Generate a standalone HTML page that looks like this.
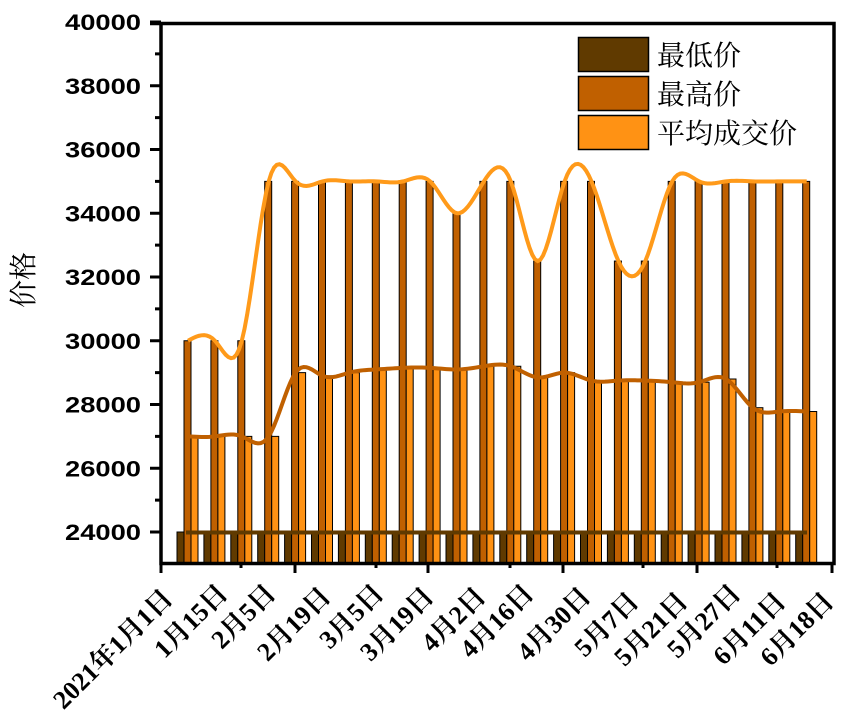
<!DOCTYPE html>
<html><head><meta charset="utf-8">
<style>
html,body{margin:0;padding:0;background:#fff;}
svg{display:block;}
.yt{font-family:"Liberation Sans",sans-serif;font-weight:bold;font-size:22px;}
.xt{font-family:"Liberation Serif","Noto Serif CJK SC",serif;font-weight:bold;font-size:26px;}
.lg{font-family:"Liberation Serif","Noto Serif CJK SC",serif;font-size:28px;}
</style></head>
<body>
<svg id="s" width="861" height="722" xmlns="http://www.w3.org/2000/svg">
<g id="bars"></g>
<path id="dl" fill="none" stroke="#c06000" stroke-width="4"/>
<path id="bl" fill="none" stroke="#ff9a1a" stroke-width="4"/>
<line x1="186" y1="532.5" x2="807" y2="532.5" stroke="#603a00" stroke-width="4"/>
<g id="axes"></g>
<rect x="578.5" y="37.5" width="70" height="34" fill="#603a00" stroke="#000" stroke-width="1.5"/>
<rect x="578.5" y="76.5" width="70" height="34" fill="#c06000" stroke="#000" stroke-width="1.5"/>
<rect x="578.5" y="115.5" width="70" height="34" fill="#ff9214" stroke="#000" stroke-width="1.5"/>
<text class="lg" x="657" y="65">最低价</text>
<text class="lg" x="657" y="104">最高价</text>
<text class="lg" x="657" y="143">平均成交价</text>
<text class="lg" transform="translate(33,280) rotate(-90)" text-anchor="middle" font-size="30">价格</text>
</svg>
<script>
var NS="http://www.w3.org/2000/svg";
function el(t,a,p,txt){var e=document.createElementNS(NS,t);for(var k in a)e.setAttribute(k,a[k]);if(txt)e.textContent=txt;(p||document.getElementById('s')).appendChild(e);return e;}
function Y(v){return 532-(v-24000)/2000*63.75;}
var high=[30000,30000,30000,35000,35000,35000,35000,35000,35000,35000,34000,35000,35000,32500,35000,35000,32500,32500,35000,35000,35000,35000,35000,35000];
var avg=[27000,27000,27000,27000,29000,28900,29000,29100,29150,29150,29100,29200,29200,28850,29000,28750,28750,28750,28700,28700,28800,27900,27780,27780];
var bars=document.getElementById('bars');
var bot=563;
for(var i=0;i<24;i++){
 var x=177+26.9*i;
 el('rect',{x:x,y:Y(24000),width:7,height:bot-Y(24000),fill:'#603a00',stroke:'#000','stroke-width':1},bars);
 el('rect',{x:x+7,y:Y(high[i]),width:7,height:bot-Y(high[i]),fill:'#c06000',stroke:'#000','stroke-width':1},bars);
 el('rect',{x:x+14,y:Y(avg[i]),width:7,height:bot-Y(avg[i]),fill:'#ff9214',stroke:'#000','stroke-width':1},bars);
}
function spline(ys){
 var n=ys.length,xs=[];for(var i=0;i<n;i++)xs.push(188+26.9*i);
 var h=26.9,a=new Array(n).fill(0),b=new Array(n).fill(0),c=new Array(n).fill(0),d=new Array(n).fill(0),m=new Array(n).fill(0);
 for(var i=1;i<n-1;i++){a[i]=h;b[i]=4*h;c[i]=h;d[i]=6*(ys[i+1]-2*ys[i]+ys[i-1])/h;}
 var cp=[],dp=[];cp[1]=c[1]/b[1];dp[1]=d[1]/b[1];
 for(var i=2;i<n-1;i++){var den=b[i]-a[i]*cp[i-1];cp[i]=c[i]/den;dp[i]=(d[i]-a[i]*dp[i-1])/den;}
 m[n-2]=dp[n-2];for(var i=n-3;i>=1;i--)m[i]=dp[i]-cp[i]*m[i+1];
 var s="M"+xs[0]+" "+ys[0];
 for(var i=0;i<n-1;i++){for(var k=1;k<=10;k++){var t=k/10*h,A=(h-t),B=t;
  var y=m[i]*A*A*A/(6*h)+m[i+1]*B*B*B/(6*h)+(ys[i]/h-m[i]*h/6)*A+(ys[i+1]/h-m[i+1]*h/6)*B;
  s+=" L"+(xs[i]+t).toFixed(2)+" "+y.toFixed(2);}}
 return s;
}
document.getElementById('dl').setAttribute('d',spline(avg.map(Y)));
document.getElementById('bl').setAttribute('d',spline(high.map(Y)));
var ax=document.getElementById('axes');
el('path',{d:"M150 23.5 H834 V563.5 H161 V23.5",fill:"none",stroke:"#000","stroke-width":3.5},ax);
for(var v=24000;v<=40000;v+=1000){var y=Y(v);var maj=(v%2000==0);
 el('line',{x1:maj?150:155,x2:161,y1:y,y2:y,stroke:'#000','stroke-width':3},ax);
 if(maj)el('text',{x:141,y:y+8,'text-anchor':'end','class':'yt',textLength:76,lengthAdjust:'spacingAndGlyphs'},ax,String(v));}
var ticks=[[161,1],[241,0],[295,1],[376,0],[428,1],[510,0],[563,1],[643,0],[697,1],[777,0],[832,1]];
ticks.forEach(function(t){el('line',{x1:t[0],x2:t[0],y1:563,y2:t[1]?573:568,stroke:'#000','stroke-width':3},ax);});
var labs=[["2021年1月1日",187,587],["1月15日",242,582],["2月5日",290,582],["2月19日",345,585],["3月5日",398,582],["3月19日",448,585],["4月2日",500,585],["4月16日",548,582],["4月30日",605,585],["5月7日",653,590],["5月21日",702,590],["5月27日",755,582],["6月11日",800,590],["6月18日",848,590]];
labs.forEach(function(l){el('text',{'class':'xt','text-anchor':'end',transform:"translate("+(l[1]-13)+","+(l[2]+13)+") rotate(-45)"},ax,l[0]);});
</script>
</body></html>
